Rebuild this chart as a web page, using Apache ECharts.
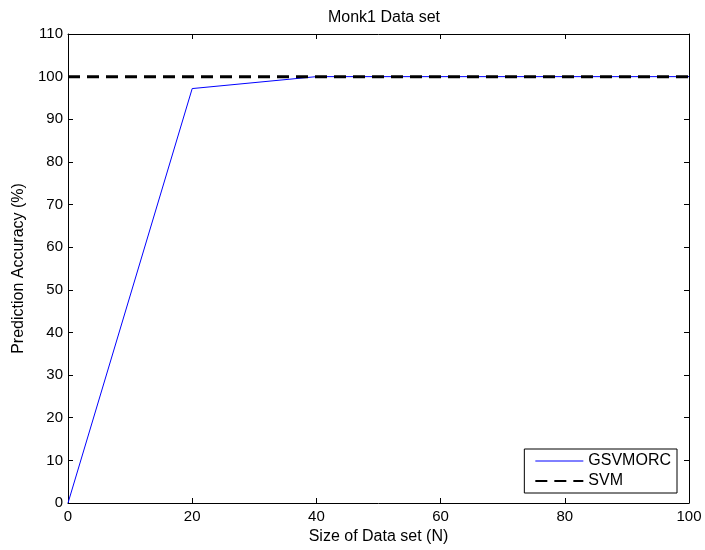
<!DOCTYPE html>
<html>
<head>
<meta charset="utf-8">
<script src="https://cdn.jsdelivr.net/npm/echarts@6/dist/echarts.min.js"></script>
<style>
  html, body { margin: 0; padding: 0; background: #fff; }
  #main { width: 705px; height: 550px; }
</style>
</head>
<body>
<div id="main"></div>
<script>
const xValues = [0, 20, 40, 60, 80, 100];
const gsvmorc = [0, 97.2, 100, 100, 100, 100];
const svm = [100, 100, 100, 100, 100, 100];

const font = 'Liberation Sans, Arial, sans-serif';
const chart = echarts.init(document.getElementById('main'));

const tickIn = { show: true, inside: true, length: 5, lineStyle: { color: '#000' } };
const lineBlack = { show: true, onZero: false, lineStyle: { color: '#000', width: 1 } };

chart.setOption({
    animation: false,
    title: {
        text: 'Monk1 Data set',
        left: 379,
        textAlign: 'center',
        top: 5,
        textStyle: { fontFamily: font, fontSize: 16, fontWeight: 'normal', color: '#000' }
    },
    grid: { left: 68, right: 16, top: 34, bottom: 47 },
    legend: {
        orient: 'vertical',
        right: 28,
        bottom: 57,
        itemWidth: 48,
        itemHeight: 16,
        itemGap: 4,
        padding: [4, 6, 4, 10],
        borderColor: '#000',
        borderWidth: 1,
        backgroundColor: '#fff',
        itemStyle: { opacity: 0 },
        textStyle: { fontFamily: font, fontSize: 16, color: '#000' },
        data: [
            { name: 'GSVMORC', lineStyle: { width: 1 } },
            { name: 'SVM' }
        ]
    },
    xAxis: [{
        type: 'value',
        min: 0, max: 100, interval: 20,
        name: 'Size of Data set (N)',
        nameLocation: 'middle',
        nameGap: 25,
        nameTextStyle: { fontFamily: font, fontSize: 16, color: '#000' },
        axisLine: lineBlack,
        axisTick: tickIn,
        axisLabel: { fontFamily: font, fontSize: 15, color: '#000', margin: 6 },
        splitLine: { show: false }
    }, {
        type: 'value',
        position: 'top',
        min: 0, max: 100, interval: 20,
        axisLine: lineBlack,
        axisTick: tickIn,
        axisLabel: { show: false },
        splitLine: { show: false }
    }],
    yAxis: [{
        type: 'value',
        min: 0, max: 110, interval: 10,
        name: 'Prediction Accuracy (%)',
        nameLocation: 'middle',
        nameGap: 40,
        nameTextStyle: { fontFamily: font, fontSize: 16, color: '#000' },
        axisLine: lineBlack,
        axisTick: tickIn,
        axisLabel: { fontFamily: font, fontSize: 15, color: '#000', margin: 5 },
        splitLine: { show: false }
    }, {
        type: 'value',
        position: 'right',
        min: 0, max: 110, interval: 10,
        axisLine: lineBlack,
        axisTick: tickIn,
        axisLabel: { show: false },
        splitLine: { show: false }
    }],
    series: [{
        name: 'GSVMORC',
        type: 'line',
        symbol: 'none',
        color: '#0000ff',
        lineStyle: { color: '#0000ff', width: 1 },
        data: xValues.map((x, i) => [x, gsvmorc[i]]),
        z: 2
    }, {
        name: 'SVM',
        type: 'line',
        symbol: 'none',
        color: '#000',
        lineStyle: { color: '#000', width: 3, type: [12, 7] },
        data: xValues.map((x, i) => [x, svm[i]]),
        z: 3
    }]
});
</script>
</body>
</html>
